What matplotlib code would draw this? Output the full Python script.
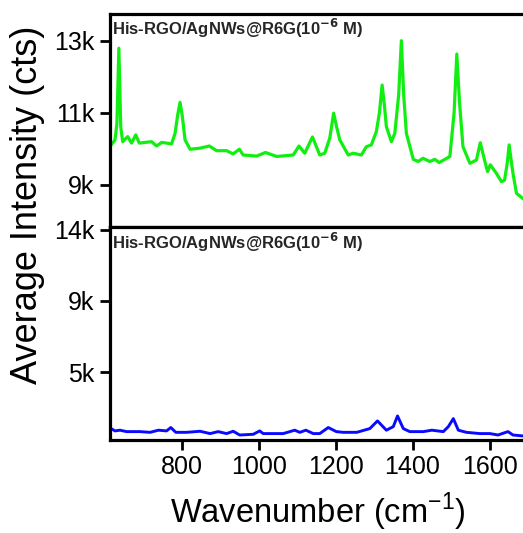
import matplotlib
matplotlib.use("Agg")
import matplotlib.pyplot as plt
from matplotlib.ticker import FixedLocator

plt.rcParams['font.family'] = ['Liberation Sans', 'DejaVu Sans']

# ---- data ----
green_x = [617, 627, 632, 637, 642, 647, 660, 670, 681, 690, 722, 735, 748, 774, 783, 790,
           796, 802, 809, 822, 848, 872, 891, 917, 934, 950, 960, 995, 1018, 1047, 1090,
           1105, 1120, 1140, 1159, 1172, 1185, 1195, 1203, 1211, 1233, 1246, 1267, 1280,
           1293, 1306, 1314, 1321, 1327, 1332, 1345, 1354, 1364, 1371, 1377, 1384, 1402,
           1415, 1427, 1445, 1458, 1469, 1484, 1497, 1508, 1515, 1522, 1531, 1549, 1566,
           1576, 1588, 1595, 1602, 1618, 1631, 1639, 1646, 1651, 1656, 1661, 1670, 1686]
green_y = [10110, 10250, 10700, 12790, 10600, 10200, 10340, 10160, 10390, 10160, 10200,
           10080, 10180, 10140, 10430, 10950, 11290, 10900, 10250, 9990, 10020, 10080, 9950,
           9950, 9860, 9990, 9830, 9800, 9900, 9790, 9830, 10080, 9880, 10330, 9830, 9880,
           10300, 10990, 10600, 10250, 9830, 9880, 9830, 10060, 10110, 10480, 11000, 11770,
           11200, 10620, 10200, 10430, 11500, 13000, 11500, 10430, 9710, 9650, 9740, 9650,
           9710, 9620, 9710, 9790, 11000, 12630, 11300, 10060, 9600, 9690, 10170, 9650,
           9370, 9560, 9320, 9090, 9130, 9600, 10110, 9700, 9320, 8770, 8630]

blue_x = [617, 627, 640, 657, 692, 718, 740, 761, 772, 785, 813, 848, 874, 895, 917, 934,
          951, 986, 1003, 1012, 1064, 1094, 1107, 1123, 1142, 1159, 1181, 1202, 1220, 1255,
          1289, 1309, 1332, 1350, 1361, 1376, 1393, 1428, 1450, 1480, 1493, 1506, 1519,
          1540, 1575, 1601, 1622, 1648, 1661, 1686]
blue_y = [1840, 1710, 1750, 1670, 1670, 1630, 1750, 1710, 1900, 1630, 1630, 1690, 1560,
          1670, 1560, 1690, 1480, 1520, 1710, 1560, 1560, 1750, 1630, 1750, 1560, 1560,
          1900, 1670, 1630, 1630, 1840, 2270, 1750, 1950, 2550, 1840, 1670, 1670, 1750,
          1670, 1950, 2400, 1750, 1630, 1560, 1560, 1480, 1670, 1480, 1430]

x_ticks = [800, 1000, 1200, 1400, 1600]
x_ticklabels = ['800', '1000', '1200', '1400', '1600']
top_yticks = [9000, 11000, 13000]
top_yticklabels = ['9k', '11k', '13k']
bot_yticks = [5000, 9000, 13000]
bot_yticklabels = ['5k', '9k', '14k']
panel_label = r'His-RGO/AgNWs@R6G(10$^{\mathbf{-6}}$ M)'

fig = plt.figure(figsize=(5.23, 5.33), dpi=100)
W, H = 523, 533
left = 110 / W
right = 1.0
y_top = 1 - 14 / H
y_mid = 1 - 227.5 / H
y_bot = 1 - 440 / H

ax1 = fig.add_axes([left, y_mid, right - left, y_top - y_mid])
ax2 = fig.add_axes([left, y_bot, right - left, y_mid - y_bot])

ax1.plot(green_x, green_y, color='#11ee11', lw=2.3, solid_joinstyle='round')
ax2.plot(blue_x, blue_y, color='#0a0aff', lw=2.1, solid_joinstyle='round')

xlim = (614, 1687)
for ax in (ax1, ax2):
    ax.set_xlim(*xlim)
    ax.spines['right'].set_visible(False)
    for s in ('left', 'top', 'bottom'):
        ax.spines[s].set_linewidth(2.3)
    ax.tick_params(axis='y', direction='out', length=7, width=2.0, labelsize=18, pad=4)

ax1.set_ylim(7820, 13740)
ax1.yaxis.set_major_locator(FixedLocator(top_yticks))
ax1.set_yticklabels(top_yticklabels)
ax1.set_xticks([])

ax2.set_ylim(1200, 13120)
ax2.yaxis.set_major_locator(FixedLocator(bot_yticks))
ax2.set_yticklabels(bot_yticklabels)
ax2.set_xticks(x_ticks)
ax2.set_xticklabels(x_ticklabels)
ax2.tick_params(axis='x', direction='out', length=7, width=2.0, labelsize=18, pad=4)

for ax in (ax1, ax2):
    ax.text(0.005, 0.985, panel_label, transform=ax.transAxes, ha='left', va='top',
            fontsize=12, fontweight='bold', color='#262626')

fig.text(28 / W, 1 - 205 / H, 'Average Intensity (cts)', rotation=90, ha='center',
         va='center', fontsize=26)
fig.text(318 / W, 1 - 512 / H, r'Wavenumber (cm$^{\mathregular{-1}}$)', ha='center',
         va='center', fontsize=23.5)

fig.savefig('out.png', dpi=100)
